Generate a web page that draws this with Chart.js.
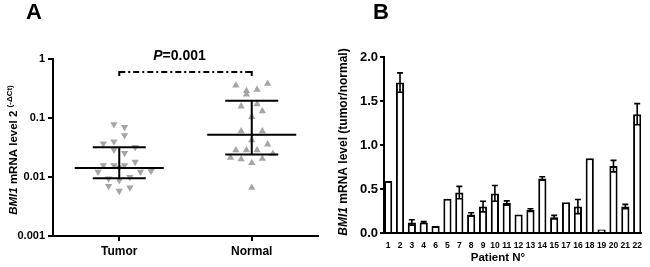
<!DOCTYPE html>
<html><head><meta charset="utf-8">
<script src="https://cdn.jsdelivr.net/npm/chart.js@4.4.0/dist/chart.umd.min.js"></script>
<style>
html,body{margin:0;padding:0;background:#fff;overflow:hidden}
#wrap{position:relative;width:650px;height:267px;background:#fff}
canvas{position:absolute;top:0}
#ca{left:0}
#cb{left:330px}
</style></head><body>
<div id="wrap"><canvas id="ca" width="330" height="267"></canvas><canvas id="cb" width="320" height="267"></canvas></div>
<script>
const FONT = 'Arial, "Liberation Sans", sans-serif';

// ---------- Panel A data ----------
const groups = ['Tumor', 'Normal'];
const tumorValues = [0.078, 0.070, 0.051, 0.037, 0.040, 0.029, 0.0255, 0.032, 0.018, 0.0158, 0.0158, 0.0158,
  0.0122, 0.0122, 0.0126, 0.0094, 0.010, 0.0088, 0.0070, 0.0058, 0.0066, 0.0145];
const tumorJitter = [-1, 1, 1, -3, -1, -1, 1, 3, 3, -3, -1, 1, -4, 4, 6, -2, 2, 0, -2, 0, 2, 0];
const normalValues = [0.358, 0.287, 0.252, 0.303, 0.383, 0.158, 0.171, 0.131, 0.104, 0.060, 0.060, 0.042, 0.0358,
  0.0284, 0.0284, 0.0284, 0.0249, 0.0213, 0.020, 0.0173, 0.0205, 0.0066];
const normalJitter = [-3, -1, -1, 1, 3, -2, 1, 2, 0, -2, 2, 0, 3, -3, -1, 1, 4, -4, -2, 0, 2, 0];
const medians = [0.0142, 0.052];
const q1 = [0.0095, 0.024];
const q3 = [0.032, 0.197];
const pValueText = '0.001';
const bracketLevel = 0.6;
const yTicksA = [0.001, 0.01, 0.1, 1];

// ---------- Panel B data ----------
const patients = ['1','2','3','4','6','5','7','8','9','10','11','12','13','14','15','17','16','18','19','20','21','22'];
const ratio    = [0.59, 1.71, 0.12, 0.12, 0.08, 0.39, 0.46, 0.21, 0.30, 0.45, 0.34, 0.21, 0.26, 0.62, 0.18, 0.35, 0.30, 0.85, 0.04, 0.76, 0.30, 1.35];
const ratioErr = [0, 0.11, 0.03, 0.01, 0, 0, 0.07, 0.02, 0.06, 0.09, 0.025, 0, 0.015, 0.02, 0.02, 0, 0.08, 0, 0, 0.065, 0.025, 0.12];
const yTicksB = [0, 0.5, 1, 1.5, 2];

const JSTEP = 0.04;
const GRAY = '#a4a4a9';

function font(size, style) { return (style || '') + ' bold ' + size + 'px ' + FONT; }

function drawRotatedTitle(ctx, cx, cy, parts) {
  ctx.save();
  ctx.translate(cx, cy);
  ctx.rotate(-Math.PI / 2);
  ctx.fillStyle = '#000';
  ctx.textBaseline = 'alphabetic';
  let total = 0;
  parts.forEach(p => { ctx.font = p.font; p.w = ctx.measureText(p.text).width; total += p.w; });
  let x = -total / 2;
  parts.forEach(p => { ctx.font = p.font; ctx.fillText(p.text, x, 4 + (p.dy || 0)); x += p.w; });
  ctx.restore();
}

const panelA = {
  id: 'panelA',
  afterDatasetsDraw(chart) {
    const ctx = chart.ctx, xs = chart.scales.x, ys = chart.scales.y;
    ctx.save();
    ctx.strokeStyle = '#000';
    ctx.lineWidth = 2;
    groups.forEach((g, i) => {
      const x = xs.getPixelForValue(i);
      const ym = ys.getPixelForValue(medians[i]);
      const y1 = ys.getPixelForValue(q1[i]);
      const y3 = ys.getPixelForValue(q3[i]);
      ctx.beginPath();
      ctx.moveTo(x - 44.5, ym); ctx.lineTo(x + 44.5, ym);
      ctx.moveTo(x - 26.5, y1); ctx.lineTo(x + 26.5, y1);
      ctx.moveTo(x - 26.5, y3); ctx.lineTo(x + 26.5, y3);
      ctx.moveTo(x, y1); ctx.lineTo(x, y3);
      ctx.stroke();
    });
    ctx.restore();
  },
  afterDraw(chart) {
    const ctx = chart.ctx, xs = chart.scales.x, ys = chart.scales.y;
    ctx.save();
    const x0 = xs.getPixelForValue(0), x1 = xs.getPixelForValue(1);
    const yb = ys.getPixelForValue(bracketLevel);
    ctx.strokeStyle = '#000';
    ctx.lineWidth = 2;
    ctx.setLineDash([6, 3, 2, 3]);
    ctx.beginPath(); ctx.moveTo(x0, yb); ctx.lineTo(x1, yb); ctx.stroke();
    ctx.setLineDash([]);
    ctx.beginPath();
    ctx.moveTo(x0, yb - 1); ctx.lineTo(x0, yb + 4);
    ctx.moveTo(x1, yb - 1); ctx.lineTo(x1, yb + 4);
    ctx.stroke();
    ctx.fillStyle = '#000';
    ctx.textBaseline = 'alphabetic';
    const fp = font(14, 'italic'), fr = font(14);
    ctx.font = fp; const wp = ctx.measureText('P').width;
    ctx.font = fr; const wr = ctx.measureText('=' + pValueText).width;
    let tx = (x0 + x1) / 2 - 6 - (wp + wr) / 2;
    const ty = yb - 12;
    ctx.font = fp; ctx.fillText('P', tx, ty);
    ctx.font = fr; ctx.fillText('=' + pValueText, tx + wp, ty);
    ctx.font = font(22);
    ctx.textAlign = 'center';
    ctx.textBaseline = 'middle';
    ctx.fillText('A', 34, 13);
    ctx.restore();
    drawRotatedTitle(ctx, 13, 150, [
      { text: 'BMI1', font: font(11.5, 'italic') },
      { text: ' mRNA level 2 ', font: font(11.5) },
      { text: '(-\u0394Ct)', font: font(8), dy: -5 }
    ]);
  }
};

new Chart(document.getElementById('ca'), {
  type: 'scatter',
  data: {
    datasets: [
      { data: tumorValues.map((v, i) => ({ x: 0 + tumorJitter[i] * JSTEP, y: v })),
        pointStyle: 'triangle', rotation: 180, radius: 4.2, backgroundColor: GRAY, borderColor: GRAY, borderWidth: 0 },
      { data: normalValues.map((v, i) => ({ x: 1 + normalJitter[i] * JSTEP, y: v })),
        pointStyle: 'triangle', rotation: 0, radius: 4.2, backgroundColor: GRAY, borderColor: GRAY, borderWidth: 0 }
    ]
  },
  options: {
    responsive: false, animation: false, events: [],
    layout: { padding: { left: 0, right: 12, top: 59, bottom: 0 } },
    plugins: { legend: { display: false }, tooltip: { enabled: false } },
    scales: {
      x: {
        type: 'linear', min: -0.5, max: 1.5,
        afterBuildTicks: s => { s.ticks = groups.map((g, i) => ({ value: i })); },
        afterFit: s => { s.height = 31; },
        ticks: { callback: v => groups[v], font: { family: FONT, size: 12, weight: 'bold' }, color: '#000', padding: 3, autoSkip: false, maxRotation: 0 },
        grid: { drawOnChartArea: false, drawTicks: true, tickLength: 5, color: '#000', lineWidth: 2 },
        border: { display: true, color: '#000', width: 2 }
      },
      y: {
        type: 'logarithmic', min: 0.001, max: 1,
        afterBuildTicks: s => { s.ticks = yTicksA.map(v => ({ value: v })); },
        afterFit: s => { s.width = 53; },
        ticks: { callback: v => String(v), font: { family: FONT, size: 11, weight: 'bold' }, color: '#000', padding: 3, autoSkip: false },
        grid: { drawOnChartArea: false, drawTicks: true, tickLength: 5, color: '#000', lineWidth: 2 },
        border: { display: true, color: '#000', width: 2 }
      }
    }
  },
  plugins: [panelA]
});

const panelB = {
  id: 'panelB',
  afterDatasetsDraw(chart) {
    const ctx = chart.ctx, xs = chart.scales.x, ys = chart.scales.y;
    ctx.save();
    ctx.strokeStyle = '#000';
    ctx.lineWidth = 1.6;
    ratio.forEach((v, i) => {
      const e = ratioErr[i];
      if (!e) return;
      const x = xs.getPixelForValue(i);
      const yt = ys.getPixelForValue(v + e), yb = ys.getPixelForValue(v - e);
      ctx.beginPath();
      ctx.moveTo(x, yt); ctx.lineTo(x, yb);
      ctx.moveTo(x - 3, yt); ctx.lineTo(x + 3, yt);
      ctx.moveTo(x - 3, yb); ctx.lineTo(x + 3, yb);
      ctx.stroke();
    });
    ctx.restore();
  },
  afterDraw(chart) {
    const ctx = chart.ctx;
    ctx.save();
    ctx.fillStyle = '#000';
    ctx.font = font(22);
    ctx.textAlign = 'center';
    ctx.textBaseline = 'middle';
    ctx.fillText('B', 51, 13);
    ctx.font = font(11.5);
    ctx.fillText('Patient N\u00b0', 168, 258);
    ctx.restore();
    drawRotatedTitle(ctx, 13, 142, [
      { text: 'BMI1', font: font(12, 'italic') },
      { text: ' mRNA level (tumor/normal)', font: font(12) }
    ]);
  }
};

new Chart(document.getElementById('cb'), {
  type: 'bar',
  data: {
    datasets: [{
      data: ratio.map((v, i) => ({ x: i, y: v })),
      backgroundColor: '#fff', borderColor: '#000', borderWidth: 2,
      barPercentage: 0.69, categoryPercentage: 1
    }]
  },
  options: {
    responsive: false, animation: false, events: [],
    layout: { padding: { left: 0, right: 5, top: 57, bottom: 0 } },
    plugins: { legend: { display: false }, tooltip: { enabled: false } },
    scales: {
      x: {
        type: 'linear', min: -0.35, max: 21.35, offset: false,
        afterBuildTicks: s => { s.ticks = patients.map((p, i) => ({ value: i })); },
        afterFit: s => { s.height = 34; },
        ticks: { callback: v => patients[v], font: { family: FONT, size: 8.5, weight: 'bold' }, color: '#000', padding: 8, autoSkip: false, maxRotation: 0 },
        grid: { offset: false, drawOnChartArea: false, drawTicks: false, color: '#000' },
        border: { display: true, color: '#000', width: 2 }
      },
      y: {
        min: 0, max: 2,
        afterBuildTicks: s => { s.ticks = yTicksB.map(v => ({ value: v })); },
        afterFit: s => { s.width = 54; },
        ticks: { callback: v => v.toFixed(1), font: { family: FONT, size: 13, weight: 'bold' }, color: '#000', padding: 2 },
        grid: { drawOnChartArea: false, drawTicks: true, tickLength: 4, color: '#000', lineWidth: 2 },
        border: { display: true, color: '#000', width: 2 }
      }
    }
  },
  plugins: [panelB]
});
</script>
</body></html>
